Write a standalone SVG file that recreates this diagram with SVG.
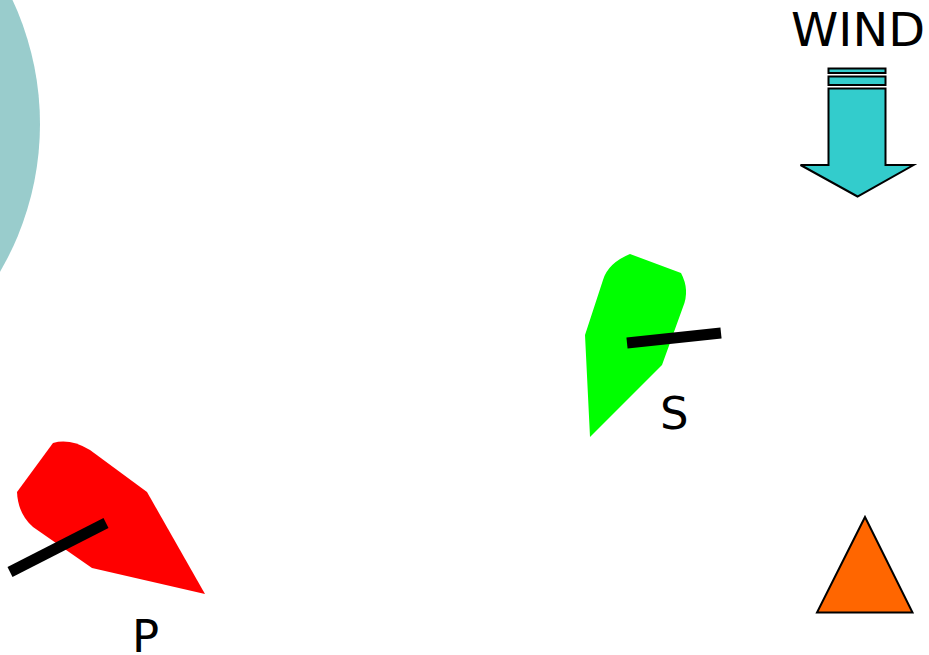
<svg xmlns="http://www.w3.org/2000/svg" width="929" height="655" viewBox="0 0 929 655">
<style>
.lbl{font-family:"DejaVu Sans","Verdana",sans-serif;font-size:45px;fill:#000}
.outl{stroke:#000;stroke-width:2;stroke-linejoin:miter}
.mast{stroke:#000;stroke-width:11;stroke-linecap:butt;fill:none}
</style>
<rect width="929" height="655" fill="#fff"/>
<g id="island">
<circle cx="-253" cy="124" r="293" fill="#99CCCC"/>
</g>
<g id="wind">
<text class="lbl" x="791" y="46" style="font-size:47px" textLength="134" lengthAdjust="spacingAndGlyphs">WIND</text>
<g class="outl" fill="#33CCCC">
<rect x="828.5" y="68.5" width="57" height="4.5"/>
<rect x="828.5" y="76.5" width="57" height="8.5"/>
<path d="M828.5,88.5 H885.5 V165 H913.5 L857.5,196.5 L800.5,165 H828.5 Z"/>
</g>
</g>
<g id="boat-s">
<path d="M630,254 L681,273 Q690,290 683,307 L662,365 L590,437 L585,335 L603,280 Q608,263 630,254 Z" fill="#00FF00"/>
<line class="mast" x1="627" y1="343" x2="721" y2="333"/>
<text class="lbl" x="660" y="429">S</text>
</g>
<g id="boat-p">
<path d="M53,443 Q70,438 90,450 L147,492 L205,594 L92,568 L33,527 Q18,514 17,492 Z" fill="#FF0000"/>
<line class="mast" x1="10" y1="572" x2="106" y2="523"/>
<text class="lbl" x="132" y="652">P</text>
</g>
<g id="mark">
<path class="outl" d="M865,517 L817,612.5 L912.5,612.5 Z" fill="#FF6600"/>
</g>
<g id="connectors"/>
</svg>
